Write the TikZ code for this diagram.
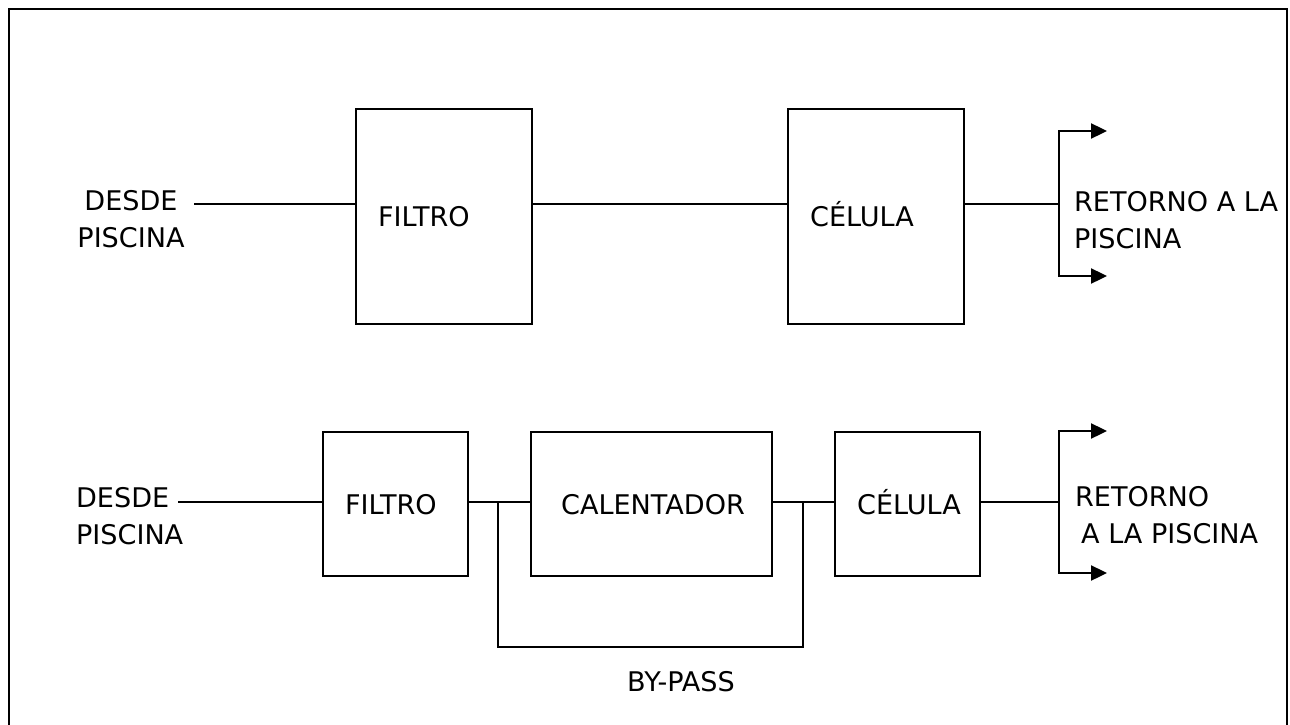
\documentclass[tikz,border=0pt]{standalone}
\usepackage{fontspec}
\setmainfont{DejaVu Sans}
\usetikzlibrary{arrows.meta}

\begin{document}
\begin{tikzpicture}[x=0.1mm,y=-0.1mm,line width=0.65pt,>={Triangle[length=1.6mm,width=1.5mm]},
    every node/.style={font=\fontsize{7.7}{10.4}\selectfont},
    block/.style={draw,anchor=north west,inner xsep=2.2mm,inner ysep=0pt,align=left,text height=2mm,text depth=0pt},
    tag/.style={inner sep=0pt}]
    \clip (0,0) rectangle (1290,724);
    \draw[line width=0.8pt] (9,9) rectangle (1287,780);
    \node[block,text width=13.2mm,minimum height=21.5mm] (filtro1) at (355,108) {FILTRO};
    \node[block,text width=13.2mm,minimum height=21.5mm] (celula1) at (787,108) {CÉLULA};
    \node[block,text width=10.1mm,minimum height=14.4mm] (filtro2) at (322,431) {FILTRO};
    \node[block,inner xsep=3mm,text width=18.1mm,minimum height=14.4mm] (calentador) at (530,431) {CALENTADOR};
    \node[block,text width=10.1mm,minimum height=14.4mm] (celula2) at (834,431) {CÉLULA};
    \node[tag,align=center] (desde1) at (131,219) {DESDE\\PISCINA};
    \node[tag,align=left,anchor=west] (desde2) at (75,516) {DESDE\\PISCINA};
    \node[tag,align=left,anchor=west] (retorno1) at (1073,220) {RETORNO A LA\\PISCINA};
    \node[tag,align=left,anchor=west] (retorno2) at (1074,515) {RETORNO\\\hspace{0.6mm}A LA PISCINA};
    \node[tag] (bypass) at (681,682) {BY-PASS};
    \coordinate (in1) at (194,204);
    \coordinate (split1) at (1059,204);
    \coordinate (out1a) at (1107,131);
    \coordinate (out1b) at (1107,276);
    \coordinate (in2) at (178,502);
    \coordinate (split2) at (1059,502);
    \coordinate (out2a) at (1107,431);
    \coordinate (out2b) at (1107,573);
    \coordinate (bpleft) at (498,502);
    \coordinate (bpright) at (803,502);
    \draw (in1) -- (in1 -| filtro1.west)
    (in1 -| filtro1.east) -- (in1 -| celula1.west)
    (in1 -| celula1.east) -- (split1);
    \draw[->] (split1) |- (out1a);
    \draw[->] (split1) |- (out1b);
    \draw (in2) -- (in2 -| filtro2.west)
    (in2 -| filtro2.east) -- (in2 -| calentador.west)
    (in2 -| calentador.east) -- (in2 -| celula2.west)
    (in2 -| celula2.east) -- (split2);
    \draw (bpleft) -- ++(0,145) -| (bpright);
    \draw[->] (split2) |- (out2a);
    \draw[->] (split2) |- (out2b);
\end{tikzpicture}
\end{document}
